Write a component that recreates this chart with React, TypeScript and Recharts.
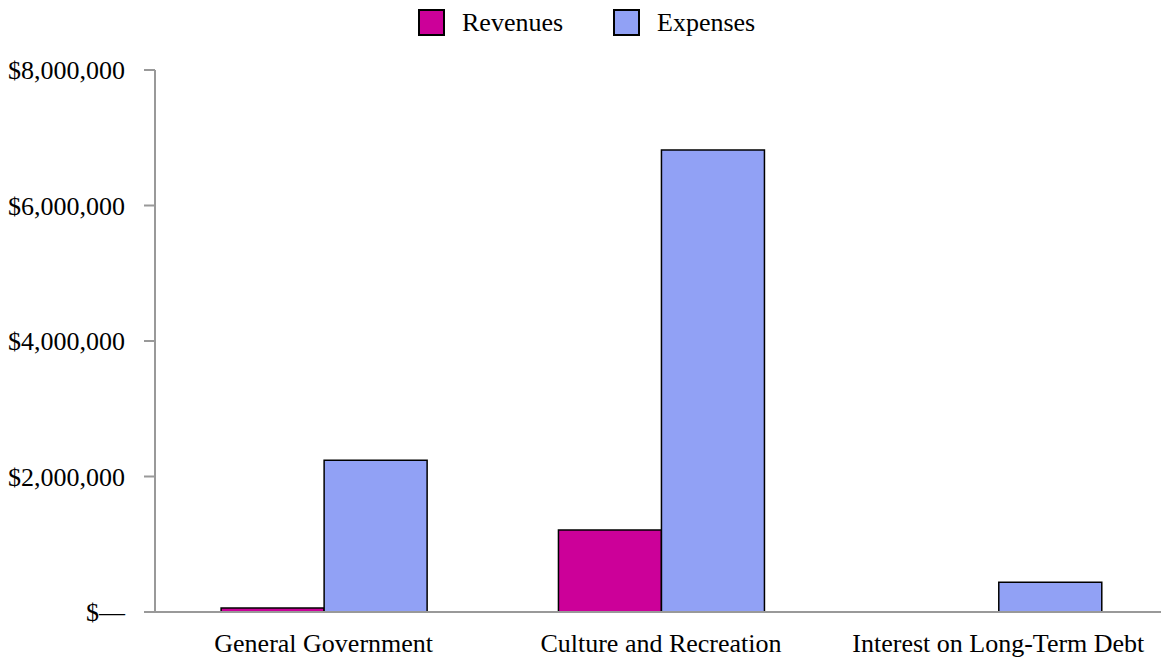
import { Bar, BarChart, XAxis, YAxis } from 'recharts';

const categories = ['General Government', 'Culture and Recreation', 'Interest on Long-Term Debt'];
const revenues = [60000, 1210000, 0];
const expenses = [2240000, 6820000, 440000];
const yTicks = [0, 2000000, 4000000, 6000000, 8000000];
const seriesNames = ['Revenues', 'Expenses'];
const seriesColors = ['#cc0099', '#91a1f5'];

const data = categories.map((name, i) => ({
  name,
  revenues: revenues[i],
  expenses: expenses[i],
}));

const font = '"Liberation Serif", "Times New Roman", serif';

const fmtMoney = (v: number) => (v === 0 ? '$—' : '$' + v.toLocaleString('en-US'));

// legend sits above the plot, drawn as plain html
function LegendRow() {
  const lefts = [418, 613];
  return (
    <>
      {seriesNames.map((label, i) => (
        <div
          key={label}
          style={{
            position: 'absolute',
            left: lefts[i],
            top: 9,
            display: 'flex',
            alignItems: 'center',
            fontFamily: font,
            fontSize: 26,
            lineHeight: '26px',
          }}
        >
          <span
            style={{
              display: 'inline-block',
              width: 23,
              height: 23,
              background: seriesColors[i],
              border: '2px solid #000',
              marginRight: 17,
            }}
          />
          <span style={{ color: '#000' }}>{label}</span>
        </div>
      ))}
    </>
  );
}

export default function App() {
  return (
    <div style={{ position: 'absolute', left: 0, top: 0, width: 1161, height: 658, overflow: 'hidden', background: '#fff' }}>
      <BarChart
        width={1161}
        height={658}
        data={data}
        margin={{ top: 70, right: -6, bottom: 0, left: 0 }}
        barCategoryGap="19.6%"
        barGap={0}
        style={{ overflow: 'hidden' }}
      >
        <XAxis
          dataKey="name"
          height={46}
          tickLine={false}
          axisLine={{ stroke: '#999999', strokeWidth: 2 }}
          tick={{ fill: '#000', fontSize: 26, fontFamily: font }}
          tickMargin={16}
          interval={0}
        />
        <YAxis
          width={155}
          domain={[0, 8000000]}
          ticks={yTicks}
          tickFormatter={fmtMoney}
          axisLine={{ stroke: '#999999', strokeWidth: 2 }}
          tickLine={{ stroke: '#999999', strokeWidth: 2 }}
          tickSize={11}
          tickMargin={19}
          tick={{ fill: '#000', fontSize: 26, fontFamily: font }}
        />
        <Bar dataKey="revenues" fill={seriesColors[0]} stroke="#000" strokeWidth={1.5} isAnimationActive={false} />
        <Bar dataKey="expenses" fill={seriesColors[1]} stroke="#000" strokeWidth={1.5} isAnimationActive={false} />
      </BarChart>
      <LegendRow />
    </div>
  );
}
